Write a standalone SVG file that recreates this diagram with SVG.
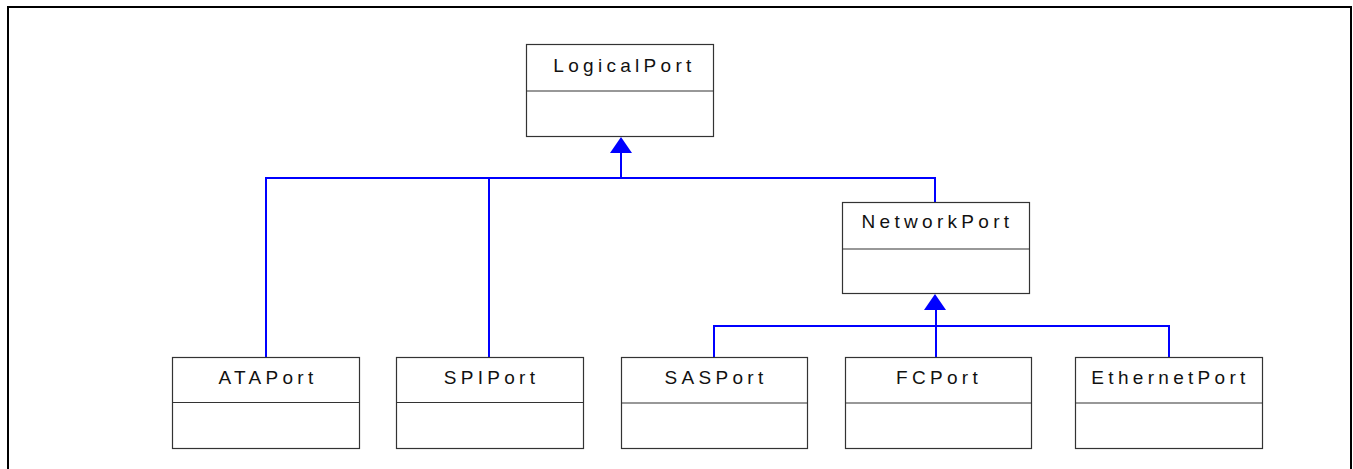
<svg xmlns="http://www.w3.org/2000/svg" width="1353" height="469" viewBox="0 0 1353 469">
<style>
.box{fill:#fff;stroke:#333;stroke-width:1.2}
.t{font-family:"Liberation Sans",Arial,sans-serif;font-size:19px;letter-spacing:4.3px;fill:#111;text-anchor:middle}
.c{fill:none;stroke:#0000ff;stroke-width:2}
.ah{fill:#0000ff;stroke:none}
</style>
<rect width="1353" height="469" fill="#fff"/>
<path d="M8 475 V7 H1351 V475" fill="none" stroke="#000" stroke-width="2"/>
<g id="connectors">
<path class="c" d="M266 357 V178 H935 V202 M489 178 V357 M621 178 V150"/>
<polygon class="ah" points="621,137 610,153 632,153"/>
<path class="c" d="M714 357 V326 H1169 V357 M936 357 V307"/>
<polygon class="ah" points="935,294 924,310 946,310"/>
</g>
<g id="LogicalPort"><rect class="box" x="526.5" y="44.5" width="187" height="92"/><line class="box" x1="526.5" y1="91" x2="713.5" y2="91"/><text class="t" x="624.5" y="72">LogicalPort</text></g>
<g id="NetworkPort"><rect class="box" x="842.5" y="202.5" width="187" height="91"/><line class="box" x1="842.5" y1="249" x2="1029.5" y2="249"/><text class="t" x="937.5" y="228">NetworkPort</text></g>
<g id="ATAPort"><rect class="box" x="172.5" y="357.5" width="187" height="91"/><line class="box" x1="172.5" y1="402.5" x2="359.5" y2="402.5"/><text class="t" x="268" y="384">ATAPort</text></g>
<g id="SPIPort"><rect class="box" x="396.5" y="357.5" width="187" height="91"/><line class="box" x1="396.5" y1="402.5" x2="583.5" y2="402.5"/><text class="t" x="491.5" y="384">SPIPort</text></g>
<g id="SASPort"><rect class="box" x="621.5" y="357.5" width="186" height="91"/><line class="box" x1="621.5" y1="403" x2="807.5" y2="403"/><text class="t" x="716" y="384">SASPort</text></g>
<g id="FCPort"><rect class="box" x="845.5" y="357.5" width="186" height="91"/><line class="box" x1="845.5" y1="403" x2="1031.5" y2="403"/><text class="t" x="939" y="384">FCPort</text></g>
<g id="EthernetPort"><rect class="box" x="1075.5" y="357.5" width="187" height="91"/><line class="box" x1="1075.5" y1="403" x2="1262.5" y2="403"/><text class="t" x="1170.5" y="384">EthernetPort</text></g>
</svg>
